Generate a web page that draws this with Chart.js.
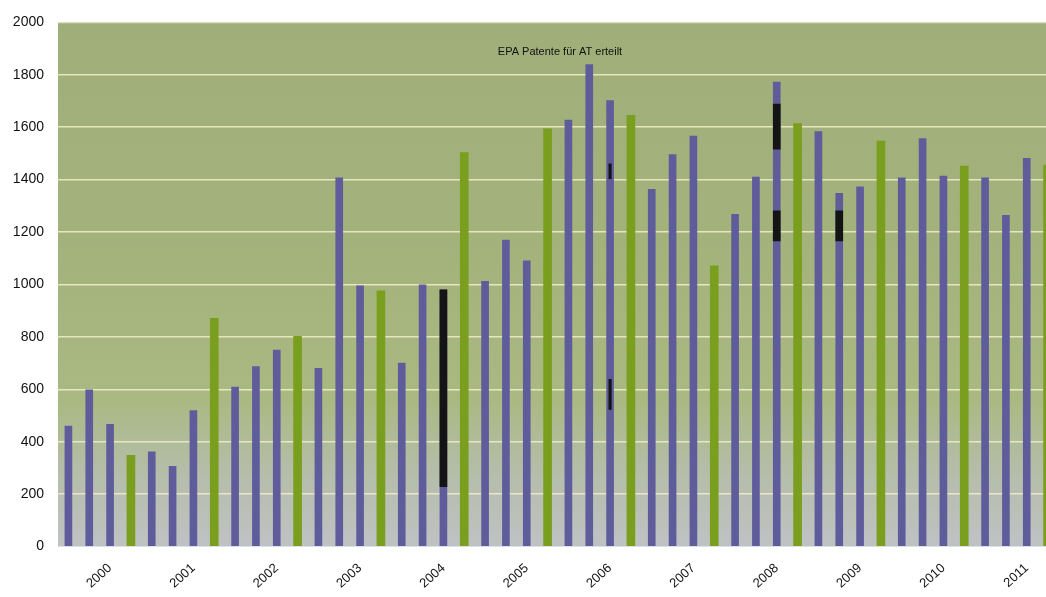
<!DOCTYPE html>
<html>
<head>
<meta charset="utf-8">
<script src="https://cdn.jsdelivr.net/npm/chart.js@4.4.0/dist/chart.umd.min.js"></script>
<style>
  html, body { margin: 0; padding: 0; background: #ffffff; overflow: hidden; }
  #wrap { position: absolute; left: 0; top: 0; width: 1058px; height: 597px; }
</style>
</head>
<body>
<div id="wrap"><canvas id="c" width="1058" height="597"></canvas></div>
<script>
// ---- data ----
const years = ['2000','2001','2002','2003','2004','2005','2006','2007','2008','2009','2010','2011'];
const quarters = ['Q1','Q2','Q3','Q4'];
// granted EPA patents per quarter (Q1..Q4 for each year)
const values2000 = [460, 598, 466, 348];
const values2001 = [361, 306, 519, 871];
const values2002 = [608, 687, 750, 802];
const values2003 = [680, 1407, 995, 976];
const values2004 = [700, 999, 979, 1503];
const values2005 = [1012, 1169, 1090, 1594];
const values2006 = [1627, 1839, 1702, 1645];
const values2007 = [1363, 1496, 1566, 1071];
const values2008 = [1268, 1410, 1772, 1614];
const values2009 = [1583, 1348, 1373, 1547];
const values2010 = [1407, 1557, 1414, 1452];
const values2011 = [1407, 1264, 1481, 1456];
const yTicks = [0, 200, 400, 600, 800, 1000, 1200, 1400, 1600, 1800, 2000];
const titleText = 'EPA Patente für AT erteilt';
// black marker segments seen on the picture: [category index, low, high]
const markWide = [[18, 228, 979], [34, 1516, 1688], [37, 1166, 1281]];
const markWide2 = [[34, 1166, 1281]];
const markThin = [[26, 1404, 1460]];
const markThin2 = [[26, 523, 638]];

// ---- build ----
const allValues = [values2000, values2001, values2002, values2003, values2004, values2005,
  values2006, values2007, values2008, values2009, values2010, values2011];
const labels = [];
const purple = [];
const green = [];
allValues.forEach((arr, yi) => {
  arr.forEach((v, qi) => {
    labels.push(years[yi] + ' ' + quarters[qi]);
    purple.push(qi === 3 ? null : v);
    green.push(qi === 3 ? v : null);
  });
});
function markData(list) {
  const d = labels.map(() => null);
  list.forEach(m => { d[m[0]] = [m[1], m[2]]; });
  return d;
}

const bgPlugin = {
  id: 'bg',
  beforeDraw(chart) {
    const { ctx, chartArea: a } = chart;
    const g = ctx.createLinearGradient(0, a.top, 0, a.bottom);
    g.addColorStop(0, '#a0ae79');
    g.addColorStop(0.45, '#a4b37c');
    g.addColorStop(0.72, '#aab982');
    g.addColorStop(0.86, '#b5bdaa');
    g.addColorStop(1, '#bfc2c4');
    ctx.save();
    ctx.fillStyle = g;
    ctx.fillRect(a.left, a.top, a.right - a.left, a.bottom - a.top);
    ctx.restore();
  }
};
const titlePlugin = {
  id: 'overlayTitle',
  afterDatasetsDraw(chart) {
    const { ctx } = chart;
    ctx.save();
    ctx.font = '11px "Liberation Sans", Arial, sans-serif';
    ctx.fillStyle = '#111';
    ctx.textAlign = 'center';
    ctx.textBaseline = 'middle';
    ctx.fillText(titleText, 560, 52);
    ctx.restore();
  }
};

new Chart(document.getElementById('c'), {
  type: 'bar',
  data: {
    labels: labels,
    datasets: [
      { label: 'marks', data: markData(markWide), backgroundColor: '#141414', barThickness: 7, grouped: false, order: 0 },
      { label: 'marks2', data: markData(markWide2), backgroundColor: '#141414', barThickness: 7, grouped: false, order: 0 },
      { label: 'marks3', data: markData(markThin), backgroundColor: '#141414', barThickness: 2.5, grouped: false, order: 0 },
      { label: 'marks4', data: markData(markThin2), backgroundColor: '#141414', barThickness: 2.5, grouped: false, order: 0 },
      { label: 'Q1-Q3', data: purple, backgroundColor: '#5f5c9b', barThickness: 7, grouped: false, order: 2 },
      { label: 'Q4', data: green, backgroundColor: '#7a9e1e', barThickness: 8, grouped: false, order: 2 }
    ]
  },
  plugins: [bgPlugin, titlePlugin],
  options: {
    responsive: false,
    animation: false,
    layout: { padding: { top: 20, right: 0, left: 0, bottom: 0 } },
    plugins: { legend: { display: false }, title: { display: false }, tooltip: { enabled: false } },
    scales: {
      x: {
        grid: { display: false, drawTicks: false },
        border: { display: false },
        ticks: {
          autoSkip: false,
          maxRotation: 42,
          minRotation: 42,
          padding: 14,
          color: '#111',
          font: { family: '"Liberation Sans", Arial, sans-serif', size: 13 },
          callback: function (val, i) { return i % 4 === 2 ? years[Math.floor(i / 4)] : ''; }
        },
        afterFit(s) { s.height = 50.5; s.paddingLeft = 0; s.paddingRight = 0; }
      },
      y: {
        min: 0, max: 2000,
        afterBuildTicks(s) { s.ticks = yTicks.map(v => ({ value: v })); },
        grid: {
          drawTicks: false,
          lineWidth: 1.5,
          color: ctx => ctx.tick && (ctx.tick.value === 0) ? 'rgba(0,0,0,0)' :
            (ctx.tick && ctx.tick.value === 2000 ? 'rgba(235,235,215,0.5)' : 'rgba(242,238,205,0.85)')
        },
        border: { display: false },
        ticks: {
          padding: 14,
          color: '#111',
          font: { family: '"Liberation Sans", Arial, sans-serif', size: 14 },
          callback: v => String(v)
        },
        afterFit(s) { s.width = 58; }
      }
    }
  }
});
</script>
</body>
</html>
